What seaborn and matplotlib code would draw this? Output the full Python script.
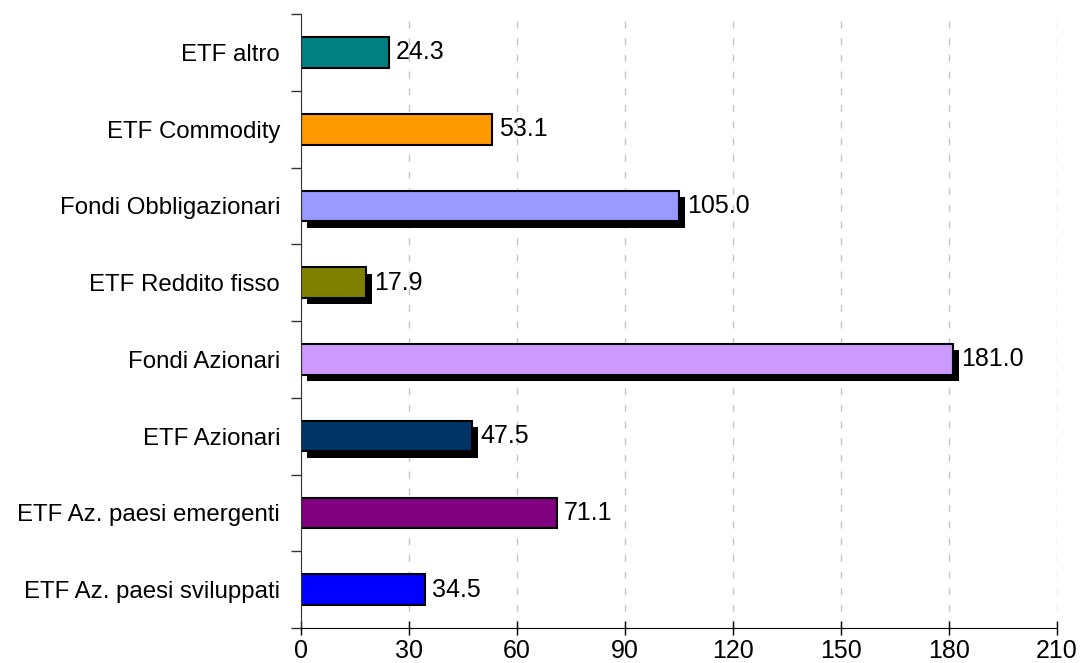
import pandas as pd
import seaborn as sns
from matplotlib import pyplot as plt
from matplotlib import patheffects as pe
from matplotlib.ticker import MultipleLocator, FixedLocator

# categories from top to bottom
categories = ['ETF altro', 'ETF Commodity', 'Fondi Obbligazionari', 'ETF Reddito fisso',
              'Fondi Azionari', 'ETF Azionari', 'ETF Az. paesi emergenti',
              'ETF Az. paesi sviluppati']
values = [24.3, 53.1, 105.0, 17.9, 181.0, 47.5, 71.1, 34.5]
colors = ['#008080', '#FF9900', '#9999FF', '#808000',
          '#CC99FF', '#003366', '#800080', '#0000FF']
shadowed = [False, False, True, True, True, True, False, False]

df = pd.DataFrame({'cat': categories, 'val': values})

sns.set_style('white')
plt.rcParams['font.family'] = ['Liberation Sans', 'DejaVu Sans']
plt.rcParams['text.color'] = 'black'
plt.rcParams['xtick.color'] = 'black'
plt.rcParams['ytick.color'] = 'black'

fig = plt.figure(figsize=(10.83, 6.63), dpi=100)
ax = fig.add_axes([0.278, 0.0528, 0.698, 0.926])

sns.barplot(data=df, x='val', y='cat', hue='cat', order=categories,
            palette=dict(zip(categories, colors)), legend=False, saturation=1,
            width=0.4, edgecolor='black', linewidth=1.5, ax=ax)

for cont, sh in zip(ax.containers, shadowed):
    for bar in cont:
        if sh:
            bar.set_path_effects([pe.SimplePatchShadow(offset=(4.5, -4.5), shadow_rgbFace='black', alpha=1.0),
                                  pe.Normal()])
    ax.bar_label(cont, fmt='%.1f', padding=6 if sh else 5, fontsize=18, color='black')

ax.set_xlim(0, 210)
ax.set_ylim(len(categories) - 0.5, -0.5)
ax.xaxis.set_major_locator(MultipleLocator(30))
ax.yaxis.set_minor_locator(FixedLocator([i - 0.5 for i in range(len(categories) + 1)]))
ax.tick_params(axis='y', which='major', left=True, length=0, labelsize=17.3, pad=15)
ax.tick_params(axis='y', which='minor', left=True, length=7, width=1, color='#333333', direction='out')
ax.tick_params(axis='x', which='major', bottom=True, length=10, width=1, color='black', direction='inout',
               labelsize=18, pad=3)

ax.grid(axis='x', linestyle=(0, (5, 7)), color='#c4c4c4', linewidth=1)
ax.set_axisbelow(True)
for s in ['top', 'right']:
    ax.spines[s].set_visible(False)
ax.spines['left'].set_color('#333333')
ax.spines['bottom'].set_color('black')
ax.set_xlabel('')
ax.set_ylabel('')

plt.savefig('out.png', dpi=100)
